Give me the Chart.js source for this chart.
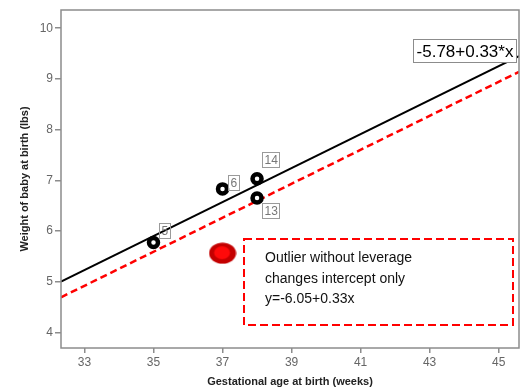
<!DOCTYPE html>
<html><head><meta charset="utf-8">
<script src="https://cdn.jsdelivr.net/npm/chart.js@4"></script>
<style>html,body{margin:0;padding:0;background:#fff}#wrap{width:521px;height:389px}</style>
</head><body><div id="wrap"><canvas id="c" width="521" height="389"></canvas></div>
<script>
const ageWeeks = [35, 37, 38, 38];
const weightLbs = [5.77, 6.83, 7.03, 6.65];
const caseLabels = ['5', '6', '14', '13'];
const outlierAge = [37];
const outlierWeight = [5.56];
const fitX = [32.32, 45.59];
const fitAllY = [5.0, 9.45];
const fitNoOutlierY = [4.69, 9.14];
const xTicks = [33, 35, 37, 39, 41, 43, 45];
const yTicks = [4, 5, 6, 7, 8, 9, 10];
const fitLabel = '-5.78+0.33*x';
const noteLines = ['Outlier without leverage', 'changes intercept only', 'y=-6.05+0.33x'];
const xTitle = 'Gestational age at birth (weeks)';
const yTitle = 'Weight of baby at birth (lbs)';

const labelOffsets = [[6, -20], [5, -14], [5, -27], [5, 5]];
const FONT = '"Liberation Sans", Arial, sans-serif';

// outlier marker image (ellipse)
const mk = document.createElement('canvas');
mk.width = 28; mk.height = 22;
(function(){
  const g = mk.getContext('2d');
  g.fillStyle = '#c40000';
  g.beginPath(); g.ellipse(14, 11, 13.5, 10.5, 0, 0, Math.PI * 2); g.fill();
  g.fillStyle = '#ff0a0a';
  g.beginPath(); g.ellipse(13.5, 10.5, 8, 6.5, 0, 0, Math.PI * 2); g.fill();
})();

const overlay = {
  id: 'overlay',
  afterDatasetsDraw(chart) {
    const ctx = chart.ctx, a = chart.chartArea;
    ctx.save();
    // frame
    ctx.strokeStyle = '#8c8c8c'; ctx.lineWidth = 1.5; ctx.setLineDash([]);
    ctx.strokeRect(a.left, a.top, a.right - a.left, a.bottom - a.top);
    // case labels
    const meta = chart.getDatasetMeta(0);
    ctx.font = '12px ' + FONT;
    ctx.textBaseline = 'middle'; ctx.textAlign = 'left';
    meta.data.forEach((p, i) => {
      const o = labelOffsets[i], t = caseLabels[i];
      const w = Math.round(ctx.measureText(t).width + 4), h = 15;
      const x = Math.round(p.x + o[0]), y = Math.round(p.y + o[1]);
      ctx.strokeStyle = '#9a9a9a'; ctx.lineWidth = 1;
      ctx.strokeRect(x + 0.5, y + 0.5, w, h);
      ctx.fillStyle = '#777';
      ctx.fillText(t, x + 2.5, y + h / 2 + 1.5);
    });
    // equation box
    ctx.fillStyle = '#fff';
    ctx.fillRect(413, 39, 104, 24);
    ctx.strokeStyle = '#8c8c8c'; ctx.lineWidth = 1;
    ctx.strokeRect(413.5, 39.5, 103, 23);
    ctx.fillStyle = '#000'; ctx.font = '17px ' + FONT; ctx.textAlign = 'center';
    ctx.fillText(fitLabel, 465, 52);
    // note box
    ctx.strokeStyle = '#ff0000'; ctx.lineWidth = 2; ctx.setLineDash([8, 4]);
    ctx.strokeRect(244, 239, 269, 86);
    ctx.setLineDash([]);
    ctx.fillStyle = '#111'; ctx.font = '14px ' + FONT; ctx.textAlign = 'left';
    noteLines.forEach((t, i) => ctx.fillText(t, 265, 258.5 + i * 20.4));
    ctx.restore();
  }
};

const axisGray = '#8c8c8c';
new Chart(document.getElementById('c'), {
  type: 'scatter',
  data: {
    datasets: [
      { data: ageWeeks.map((x, i) => ({ x, y: weightLbs[i] })), pointRadius: 4.5, borderWidth: 4.5,
        borderColor: '#000', backgroundColor: '#fff', order: 0 },
      { data: outlierAge.map((x, i) => ({ x, y: outlierWeight[i] })), pointStyle: mk, order: 0 },
      { type: 'line', data: fitX.map((x, i) => ({ x, y: fitAllY[i] })), borderColor: '#000', borderWidth: 2,
        pointRadius: 0, order: 2 },
      { type: 'line', data: fitX.map((x, i) => ({ x, y: fitNoOutlierY[i] })), borderColor: '#ff0000', borderWidth: 2.5,
        borderDash: [7, 4], pointRadius: 0, order: 1 }
    ]
  },
  options: {
    responsive: false, animation: false, devicePixelRatio: 1,
    layout: { autoPadding: false, padding: { top: 10, right: 2, left: 0, bottom: 0 } },
    plugins: { legend: { display: false }, tooltip: { enabled: false } },
    scales: {
      x: {
        type: 'linear', min: 32.32, max: 45.59,
        afterBuildTicks: s => { s.ticks = xTicks.map(v => ({ value: v })); },
        afterFit: s => { s.height = 41; s.paddingRight = 0; s.paddingLeft = 0; },
        ticks: { color: '#666', font: { size: 12, family: FONT }, padding: 2, maxRotation: 0 },
        grid: { drawOnChartArea: false, drawTicks: true, tickLength: 5, color: axisGray, lineWidth: 1.5 },
        border: { display: false },
        title: { display: true, text: xTitle, color: '#222', font: { size: 11, weight: 'bold', family: FONT }, padding: 0 }
      },
      y: {
        type: 'linear', min: 3.69, max: 10.36,
        afterBuildTicks: s => { s.ticks = yTicks.map(v => ({ value: v })); },
        afterFit: s => { s.width = 61; s.paddingTop = 0; s.paddingBottom = 0; },
        ticks: { color: '#666', font: { size: 12, family: FONT }, padding: 2 },
        grid: { drawOnChartArea: false, drawTicks: true, tickLength: 6, color: axisGray, lineWidth: 1.5 },
        border: { display: false },
        title: { display: true, text: yTitle, color: '#222', font: { size: 11, weight: 'bold', family: FONT }, padding: { top: 18, bottom: 0 } }
      }
    }
  },
  plugins: [overlay]
});
</script>
</body></html>
